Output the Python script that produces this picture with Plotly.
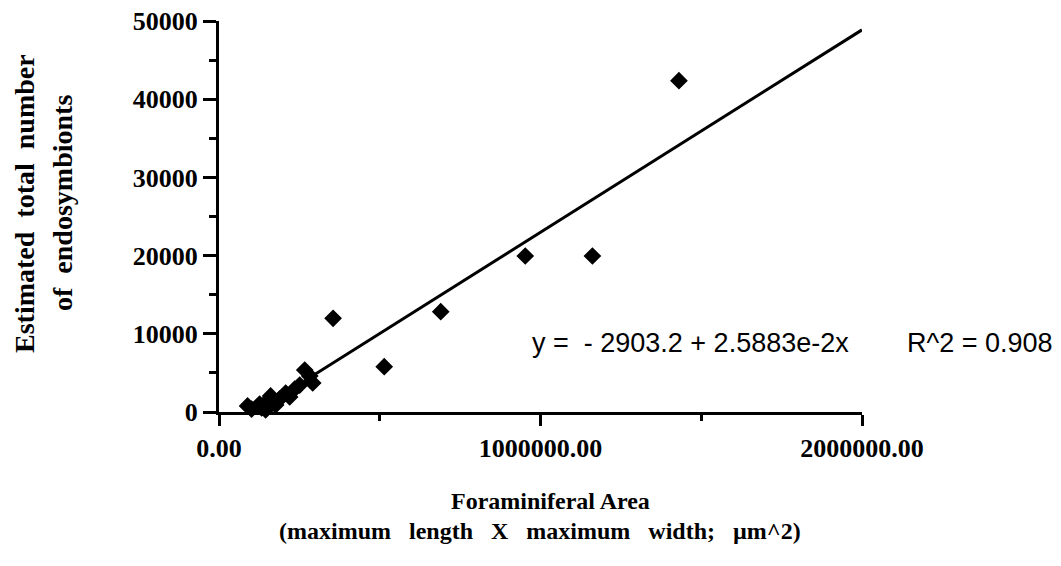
import plotly.graph_objects as go

# ---- data ----
area = [88900, 101300, 126300, 132500, 145000, 151200, 160600, 176200, 188600,
        207400, 219800, 235400, 251000, 266600, 282200, 291500,
        354900, 513900, 689700, 952600, 1161500, 1430600]
endosymbionts = [770, 380, 1020, 510, 255, 1410, 2050, 900, 1660,
                 2430, 1920, 2940, 3450, 5370, 4600, 3710,
                 11980, 5790, 12830, 19950, 19950, 42370]

intercept = -2903.2
slope = 2.5883e-2
r_squared = 0.908
fit_x = [min(area), 2000000]
fit_y = [intercept + slope * v for v in fit_x]

x_ticks = [0, 1000000, 2000000]
y_ticks = [0, 10000, 20000, 30000, 40000, 50000]

serif = "Liberation Serif, Times New Roman, serif"
sans = "Liberation Sans, Arial, sans-serif"
NB = "\u00a0"

fig = go.Figure()
fig.add_trace(go.Scatter(x=fit_x, y=fit_y, mode="lines",
                         line=dict(color="black", width=3), hoverinfo="skip"))
fig.add_trace(go.Scatter(x=area, y=endosymbionts, mode="markers",
                         marker=dict(symbol="diamond", size=12, color="black",
                                     line=dict(color="black", width=1.5)),
                         cliponaxis=False))

axis_common = dict(showline=True, linecolor="black", linewidth=3, ticks="outside",
                   tickcolor="black", tickwidth=3, showgrid=False, zeroline=False,
                   automargin=False,
                   tickfont=dict(family=serif, size=26, color="black", weight="bold"))

fig.update_xaxes(range=[0, 2000000], tickvals=x_ticks, tickformat=".2f", ticklen=11,
                 minor=dict(dtick=500000, ticklen=6, tickwidth=3, tickcolor="black", ticks="outside"),
                 **axis_common)
fig.update_yaxes(range=[0, 50000], tickvals=y_ticks, tickformat="d", ticklen=13,
                 minor=dict(dtick=5000, ticklen=7, tickwidth=3, tickcolor="black", ticks="outside"),
                 **axis_common)

ytitle_font = dict(family=serif, size=28, color="black", weight="bold")
xtitle_font = dict(family=serif, size=24, color="black", weight="bold")
eq_font = dict(family=sans, size=27, color="black")
sp2 = NB * 2
sp3 = NB * 3
annotations = [
    dict(text=f"Estimated{sp2}total{sp2}number", x=-0.3033, y=0.5345, textangle=-90,
         xanchor="center", yanchor="middle", font=ytitle_font),
    dict(text=f"of{sp2}endosymbionts", x=-0.2442, y=0.5345, textangle=-90,
         xanchor="center", yanchor="middle", font=ytitle_font),
    dict(text="Foraminiferal Area", x=0.5148, y=-0.2276,
         xanchor="center", yanchor="middle", font=xtitle_font),
    dict(text=f"(maximum{sp3}length{sp3}X{sp3}maximum{sp3}width;{sp3}\u00b5m^2)",
         x=0.4992, y=-0.3043, xanchor="center", yanchor="middle", font=xtitle_font),
    dict(text=f"y{NB}={NB}{NB}-{NB}{abs(intercept):.1f}{NB}+{NB}{slope*100:.4f}e-2x",
         x=0.4837, y=0.1765, xanchor="left", yanchor="middle", font=eq_font),
    dict(text=f"R^2{NB}={NB}{r_squared:.3f}", x=1.067, y=0.1765, xanchor="left", yanchor="middle",
         font=eq_font),
]
for a in annotations:
    a.update(xref="paper", yref="paper", showarrow=False)

fig.update_layout(width=1061, height=566, margin=dict(l=219, r=199, t=21, b=154),
                  plot_bgcolor="white", paper_bgcolor="white", showlegend=False,
                  annotations=annotations)

fig.write_html("out.html")
